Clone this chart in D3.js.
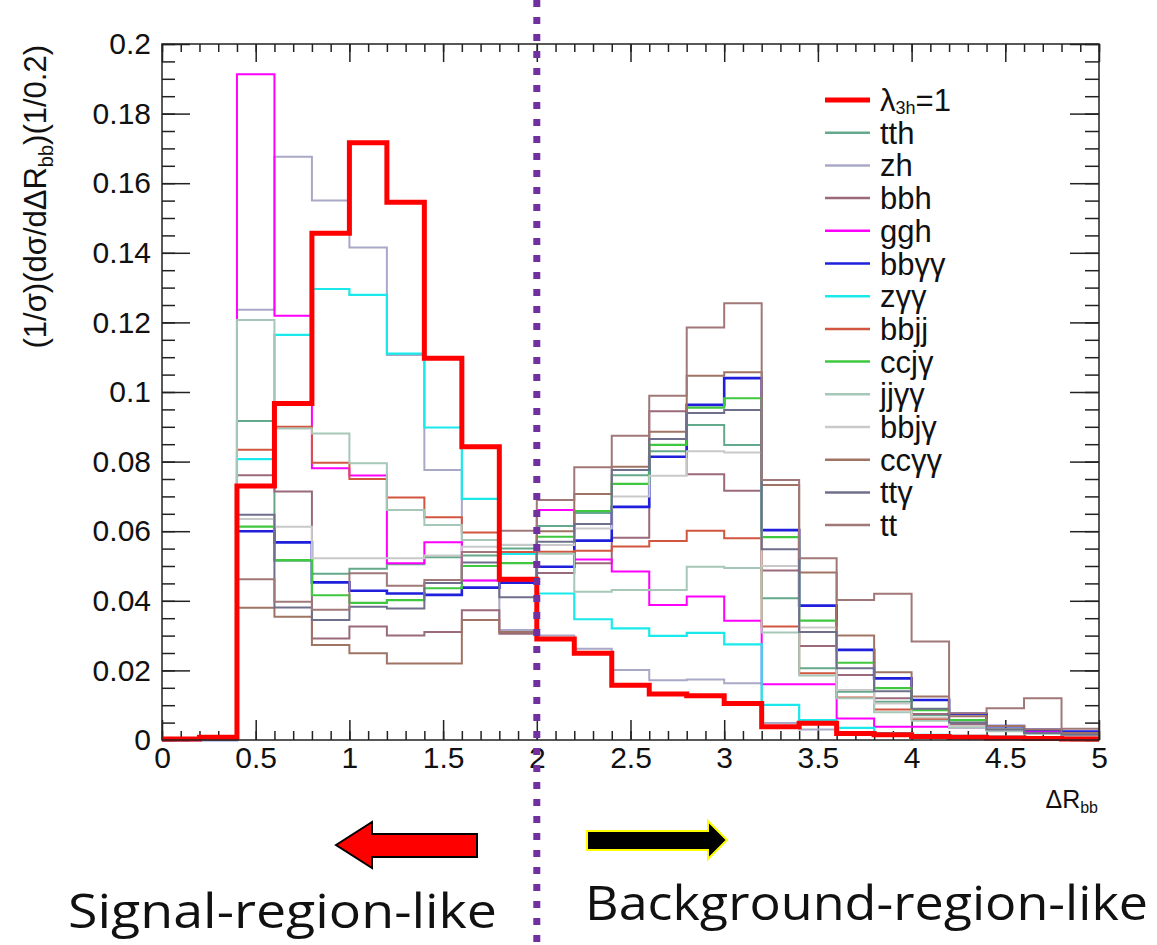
<!DOCTYPE html>
<html>
<head>
<meta charset="utf-8">
<script src="https://cdn.jsdelivr.net/npm/d3@7/dist/d3.min.js"></script>
<style>
  html, body { margin: 0; padding: 0; background: #fff; }
  svg { display: block; }
</style>
</head>
<body>
<svg id="chart" width="1157" height="945"></svg>
<script>
// ΔR_bb bin edges (0.2 wide bins from 0 to 5)
const binEdges = d3.range(0, 5.0001, 0.2).map(v => +v.toFixed(1));

// Normalised distributions, one value per bin
const lambda3h = [0.0003, 0.0008, 0.0730, 0.0967, 0.1456, 0.1716, 0.1545, 0.1097, 0.0843, 0.0462, 0.0290, 0.0249, 0.0157, 0.0132, 0.0127, 0.0105, 0.0038, 0.0048, 0.0019, 0.0015, 0.0010, 0.0008, 0.0006, 0.0004, 0.0003];
const tth  = [0, 0, 0.0917, 0.0515, 0.0478, 0.0492, 0.0505, 0.0525, 0.0530, 0.0550, 0.0615, 0.0652, 0.0761, 0.0830, 0.0905, 0.0848, 0.0407, 0.0206, 0.0139, 0.0110, 0.0072, 0.0048, 0.0032, 0.0020, 0.0015];
const zh   = [0, 0, 0.1236, 0.1676, 0.1550, 0.1415, 0.1106, 0.0776, 0.0458, 0.0316, 0.0300, 0.0262, 0.0201, 0.0172, 0.0174, 0.0163, 0.0049, 0.0030, 0.0020, 0.0015, 0.0012, 0.0010, 0.0008, 0.0006, 0.0005];
const bbh  = [0, 0, 0.0761, 0.0714, 0.0292, 0.0326, 0.0300, 0.0310, 0.0373, 0.0305, 0.0480, 0.0508, 0.0581, 0.0945, 0.0764, 0.0716, 0.0487, 0.0270, 0.0187, 0.0120, 0.0075, 0.0045, 0.0030, 0.0020, 0.0015];
const ggh  = [0, 0, 0.1913, 0.1219, 0.0781, 0.0760, 0.0508, 0.0568, 0.0458, 0.0455, 0.0661, 0.0519, 0.0484, 0.0388, 0.0412, 0.0343, 0.0160, 0.0160, 0.0062, 0.0038, 0.0038, 0.0036, 0.0030, 0.0025, 0.0023];
const bbyy = [0, 0, 0.0600, 0.0568, 0.0453, 0.0429, 0.0421, 0.0417, 0.0438, 0.0452, 0.0498, 0.0573, 0.0670, 0.0814, 0.0963, 0.1040, 0.0603, 0.0386, 0.0259, 0.0177, 0.0115, 0.0075, 0.0040, 0.0029, 0.0024];
const zyy  = [0, 0, 0.0807, 0.1164, 0.1296, 0.1279, 0.1110, 0.0898, 0.0693, 0.0535, 0.0421, 0.0347, 0.0321, 0.0299, 0.0308, 0.0275, 0.0101, 0.0057, 0.0035, 0.0020, 0.0015, 0.0012, 0.0010, 0.0008, 0.0006];
const bbjj = [0, 0, 0.0834, 0.0900, 0.0797, 0.0750, 0.0697, 0.0640, 0.0596, 0.0540, 0.0541, 0.0544, 0.0556, 0.0572, 0.0601, 0.0580, 0.0326, 0.0192, 0.0122, 0.0088, 0.0060, 0.0040, 0.0030, 0.0020, 0.0015];
const ccjy = [0, 0, 0.0613, 0.0517, 0.0416, 0.0394, 0.0402, 0.0436, 0.0500, 0.0508, 0.0584, 0.0658, 0.0736, 0.0848, 0.0955, 0.0982, 0.0583, 0.0343, 0.0222, 0.0149, 0.0086, 0.0057, 0.0030, 0.0020, 0.0015];
const jjyy = [0, 0, 0.1207, 0.0895, 0.0881, 0.0795, 0.0661, 0.0618, 0.0575, 0.0560, 0.0535, 0.0426, 0.0431, 0.0431, 0.0498, 0.0494, 0.0309, 0.0185, 0.0120, 0.0080, 0.0055, 0.0035, 0.0025, 0.0018, 0.0012];
const bbjy = [0, 0, 0.0635, 0.0613, 0.0522, 0.0522, 0.0522, 0.0530, 0.0555, 0.0561, 0.0560, 0.0608, 0.0700, 0.0759, 0.0830, 0.0826, 0.0500, 0.0323, 0.0144, 0.0105, 0.0065, 0.0040, 0.0030, 0.0020, 0.0012];
const ccyy = [0, 0, 0.0380, 0.0354, 0.0273, 0.0249, 0.0220, 0.0220, 0.0345, 0.0310, 0.0600, 0.0707, 0.0785, 0.0886, 0.1047, 0.1057, 0.0733, 0.0481, 0.0300, 0.0195, 0.0125, 0.0068, 0.0040, 0.0030, 0.0020];
const tty  = [0, 0, 0.0647, 0.0381, 0.0345, 0.0383, 0.0378, 0.0451, 0.0510, 0.0410, 0.0570, 0.0621, 0.0776, 0.0865, 0.0940, 0.0948, 0.0548, 0.0310, 0.0206, 0.0140, 0.0090, 0.0050, 0.0030, 0.0020, 0.0015];
const tt   = [0, 0, 0.0462, 0.0397, 0.0374, 0.0479, 0.0443, 0.0460, 0.0540, 0.0601, 0.0690, 0.0784, 0.0874, 0.0989, 0.1185, 0.1255, 0.0747, 0.0522, 0.0402, 0.0420, 0.0283, 0.0077, 0.0091, 0.0120, 0.0032];

// Legend entries, in legend order
const seriesNames  = ["lambda", "tth", "zh", "bbh", "ggh", "bbγγ", "zγγ", "bbjj", "ccjγ", "jjγγ", "bbjγ", "ccγγ", "ttγ", "tt"];
const seriesValues = [lambda3h, tth, zh, bbh, ggh, bbyy, zyy, bbjj, ccjy, jjyy, bbjy, ccyy, tty, tt];
const seriesColors = ["#ff0000", "#64a98b", "#a9a8c6", "#9a6a7c", "#ff00ff", "#1f1fdc", "#19e9ea", "#d2553f", "#3fc83f", "#a7c7b9", "#c9c9c9", "#a07464", "#6f6f8c", "#a07878"];
const seriesWidths = [5, 2, 2, 2, 2, 2.6, 2.2, 2, 2.2, 2, 2, 2, 2, 2];

// Axis ticks
const xMajor = d3.range(0, 5.0001, 0.5).map(v => +v.toFixed(1));
const xMinor = d3.range(0, 5.0001, 0.1).map(v => +v.toFixed(1));
const yMajor = d3.range(0, 0.2001, 0.02).map(v => +v.toFixed(2));
const yMinor = d3.range(0, 0.2001, 0.005).map(v => +v.toFixed(3));

const svg = d3.select("#chart");
const x = d3.scaleLinear().domain([0, 5]).range([162, 1099]);
const y = d3.scaleLinear().domain([0, 0.2]).range([740, 44]);

const tickFont = "Liberation Sans, Arial, sans-serif";
const fmt = d => String(+(+d).toFixed(3));

// ---- Axes (ROOT-like inward ticks on all four sides)
function styleAxis(g) {
  g.select(".domain").remove();
  g.selectAll(".tick line").attr("stroke", "#222").attr("stroke-width", 1.5);
  g.selectAll(".tick text").attr("fill", "#111").style("font-family", tickFont).style("font-size", "30px");
}
svg.append("g").attr("transform", "translate(0,740)")
  .call(d3.axisBottom(x).tickValues(xMinor).tickSize(-9).tickFormat(""))
  .call(styleAxis);
svg.append("g").attr("transform", "translate(0,740)")
  .call(d3.axisBottom(x).tickValues(xMajor).tickSize(-20).tickPadding(7).tickFormat(fmt))
  .call(styleAxis);
svg.append("g").attr("transform", "translate(0,44)")
  .call(d3.axisTop(x).tickValues(xMinor).tickSize(-8).tickFormat(""))
  .call(styleAxis);
svg.append("g").attr("transform", "translate(0,44)")
  .call(d3.axisTop(x).tickValues(xMajor).tickSize(-18).tickFormat(""))
  .call(styleAxis);
svg.append("g").attr("transform", "translate(162,0)")
  .call(d3.axisLeft(y).tickValues(yMinor).tickSize(-13).tickFormat(""))
  .call(styleAxis);
svg.append("g").attr("transform", "translate(162,0)")
  .call(d3.axisLeft(y).tickValues(yMajor).tickSize(-28).tickPadding(11).tickFormat(fmt))
  .call(styleAxis);
svg.append("g").attr("transform", "translate(1099,0)")
  .call(d3.axisRight(y).tickValues(yMinor).tickSize(-14).tickFormat(""))
  .call(styleAxis);
svg.append("g").attr("transform", "translate(1099,0)")
  .call(d3.axisRight(y).tickValues(yMajor).tickSize(-29).tickFormat(""))
  .call(styleAxis);

// ---- Histograms as step outlines
const stepLine = d3.line()
  .x(d => x(d[0]))
  .y(d => y(d[1]))
  .curve(d3.curveStepAfter);

const hists = seriesValues.map((vals, i) => ({
  i,
  pts: vals.map((v, k) => [binEdges[k], v]).concat([[binEdges[vals.length], vals[vals.length - 1]]])
}));
// draw backgrounds first, the signal curve on top
const drawOrder = hists.slice(1).concat([hists[0]]);
svg.append("g").selectAll("path").data(drawOrder).join("path")
  .attr("d", d => stepLine(d.pts))
  .attr("fill", "none")
  .attr("stroke", d => seriesColors[d.i])
  .attr("stroke-width", d => seriesWidths[d.i])
  .attr("stroke-linejoin", "miter");

// frame
svg.append("rect").attr("x", 162).attr("y", 44).attr("width", 1099 - 162).attr("height", 740 - 44)
  .attr("fill", "none").attr("stroke", "#222").attr("stroke-width", 1.5);

// ---- Legend
const legend = svg.append("g").attr("font-family", tickFont).attr("font-size", 31);
const rowY = i => 100 + i * 32.7;
legend.selectAll("line").data(seriesNames).join("line")
  .attr("x1", 825).attr("x2", 870)
  .attr("y1", (d, i) => rowY(i)).attr("y2", (d, i) => rowY(i))
  .attr("stroke", (d, i) => seriesColors[i])
  .attr("stroke-width", (d, i) => i === 0 ? 5 : 2.5);
legend.selectAll("text").data(seriesNames).join("text")
  .attr("x", 880).attr("y", (d, i) => rowY(i) + 11)
  .attr("fill", "#111")
  .each(function (d, i) {
    const t = d3.select(this);
    if (i === 0) {
      t.append("tspan").text("λ");
      t.append("tspan").attr("font-size", 18).attr("dy", 3).text("3h");
      t.append("tspan").attr("dy", -3).text("=1");
    } else {
      t.text(d);
    }
  });

// ---- Axis titles
const yTitle = svg.append("text")
  .attr("transform", "translate(46,45) rotate(-90)")
  .attr("text-anchor", "end")
  .attr("font-family", tickFont).attr("font-size", 31).attr("fill", "#111");
yTitle.append("tspan").text("(1/σ)(dσ/dΔR");
yTitle.append("tspan").attr("font-size", 20).attr("dy", 7).text("bb");
yTitle.append("tspan").attr("dy", -7).text(")(1/0.2)");

const xTitle = svg.append("text")
  .attr("x", 1098).attr("y", 808)
  .attr("text-anchor", "end")
  .attr("font-family", tickFont).attr("font-size", 25).attr("fill", "#111");
xTitle.append("tspan").text("ΔR");
xTitle.append("tspan").attr("font-size", 16).attr("dy", 5).text("bb");

// ---- Region divider at ΔR_bb = 2
svg.append("line")
  .attr("x1", x(2)).attr("x2", x(2)).attr("y1", 0).attr("y2", 945)
  .attr("stroke", "#7030a0").attr("stroke-width", 7).attr("stroke-dasharray", "7 10");

// ---- Direction arrows
svg.append("polygon")
  .attr("points", [[336, 845], [372, 822], [372, 834], [477, 834], [477, 857], [372, 857], [372, 868]].join(" "))
  .attr("fill", "#ff0000").attr("stroke", "#000").attr("stroke-width", 2);
svg.append("polygon")
  .attr("points", [[727, 840], [708, 821], [708, 831], [587, 831], [587, 850], [708, 850], [708, 859]].join(" "))
  .attr("fill", "#000").attr("stroke", "#ffff00").attr("stroke-width", 2);

// ---- Region captions
svg.append("text").attr("x", 68).attr("y", 928)
  .attr("font-family", "Open Sans, Noto Sans, sans-serif").attr("font-size", 47).attr("fill", "#111")
  .attr("textLength", 429).attr("lengthAdjust", "spacingAndGlyphs")
  .text("Signal-region-like");
svg.append("text").attr("x", 585).attr("y", 920)
  .attr("font-family", "Open Sans, Noto Sans, sans-serif").attr("font-size", 47).attr("fill", "#111")
  .attr("textLength", 563).attr("lengthAdjust", "spacingAndGlyphs")
  .text("Background-region-like");
</script>
</body>
</html>
